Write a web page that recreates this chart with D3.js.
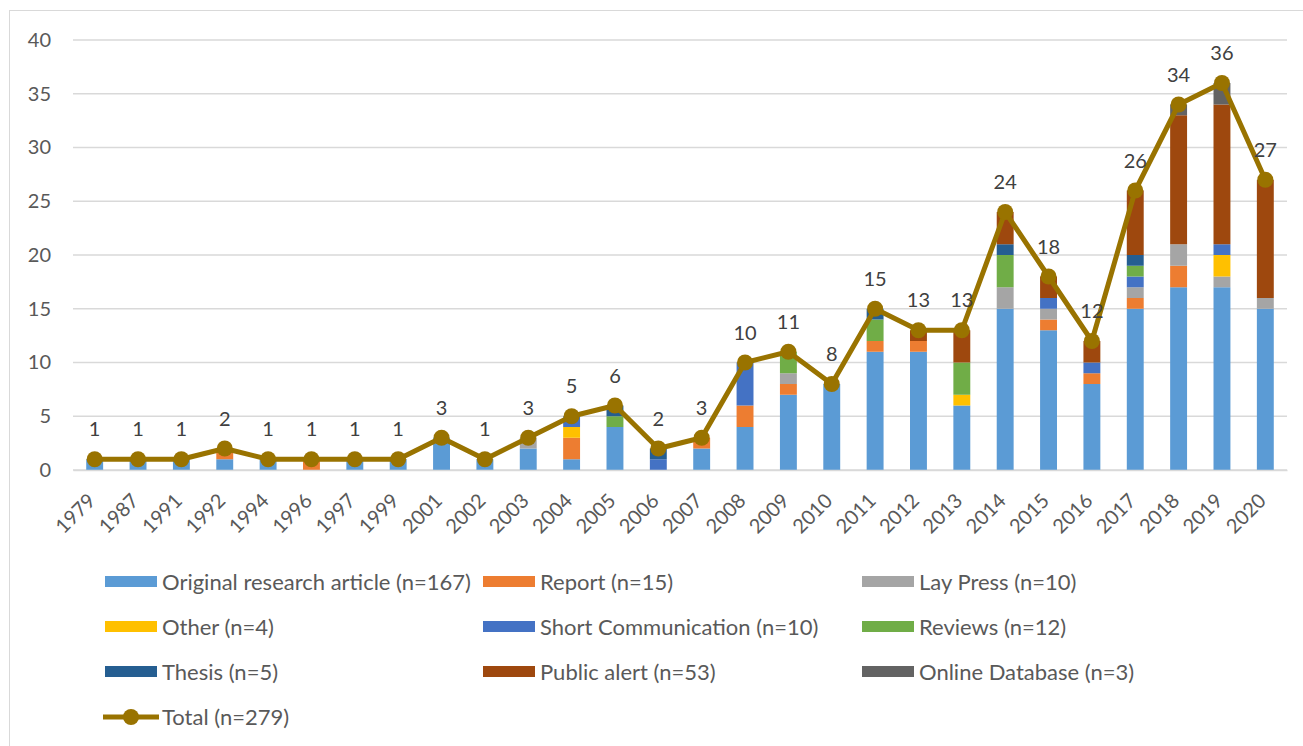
<!DOCTYPE html>
<html>
<head>
<meta charset="utf-8">
<script src="https://cdn.jsdelivr.net/npm/d3@7"></script>
<style>
  body { margin: 0; background: #fff; }
  text { font-family: Lato, "Open Sans", sans-serif; }
</style>
</head>
<body>
<div id="chart"></div>
<script>
var years = ["1979","1987","1991","1992","1994","1996","1997","1999","2001","2002","2003","2004","2005","2006","2007","2008","2009","2010","2011","2012","2013","2014","2015","2016","2017","2018","2019","2020"];

var original   = [1,1,1,1,1,0,1,1,3,1,2,1,4,0,2,4,7,8,11,11,6,15,13,8,15,17,17,15];
var report     = [0,0,0,1,0,1,0,0,0,0,0,2,0,0,1,2,1,0,1,1,0,0,1,1,1,2,0,0];
var layPress   = [0,0,0,0,0,0,0,0,0,0,1,0,0,0,0,0,1,0,0,0,0,2,1,0,1,2,1,1];
var other      = [0,0,0,0,0,0,0,0,0,0,0,1,0,0,0,0,0,0,0,0,1,0,0,0,0,0,2,0];
var shortComm  = [0,0,0,0,0,0,0,0,0,0,0,1,0,1,0,4,0,0,0,0,0,0,1,1,1,0,1,0];
var reviews    = [0,0,0,0,0,0,0,0,0,0,0,0,1,0,0,0,2,0,2,0,3,3,0,0,1,0,0,0];
var thesis     = [0,0,0,0,0,0,0,0,0,0,0,0,1,1,0,0,0,0,1,0,0,1,0,0,1,0,0,0];
var publicAlert= [0,0,0,0,0,0,0,0,0,0,0,0,0,0,0,0,0,0,0,1,3,3,2,2,6,12,13,11];
var onlineDb   = [0,0,0,0,0,0,0,0,0,0,0,0,0,0,0,0,0,0,0,0,0,0,0,0,0,1,2,0];
var totals     = [1,1,1,2,1,1,1,1,3,1,3,5,6,2,3,10,11,8,15,13,13,24,18,12,26,34,36,27];

var yTicks = [0,5,10,15,20,25,30,35,40];

var series = [
    {key: "original",    name: "Original research article (n=167)", color: "#5B9BD5", values: original},
    {key: "report",      name: "Report (n=15)",                     color: "#ED7D31", values: report},
    {key: "layPress",    name: "Lay Press (n=10)",                  color: "#A5A5A5", values: layPress},
    {key: "other",       name: "Other (n=4)",                       color: "#FFC000", values: other},
    {key: "shortComm",   name: "Short Communication (n=10)",        color: "#4472C4", values: shortComm},
    {key: "reviews",     name: "Reviews (n=12)",                    color: "#70AD47", values: reviews},
    {key: "thesis",      name: "Thesis (n=5)",                      color: "#255E91", values: thesis},
    {key: "publicAlert", name: "Public alert (n=53)",               color: "#9E480E", values: publicAlert},
    {key: "onlineDb",    name: "Online Database (n=3)",             color: "#636363", values: onlineDb}
];
var lineColor = "#997300";

var W = 1303, H = 746;
var svg = d3.select("#chart").append("svg").attr("width", W).attr("height", H);

svg.append("rect").attr("x", 9.5).attr("y", 10.5).attr("width", W + 10).attr("height", H + 10)
    .attr("fill", "#fff").attr("stroke", "#d9d9d9").attr("stroke-width", 1);

var x = d3.scaleBand().domain(years).range([73, 1287]).paddingInner(0.61).paddingOuter(0.305);
var y = d3.scaleLinear().domain([0, 40]).range([470, 40]);

// grid
svg.append("g").selectAll("line").data(yTicks).enter().append("line")
    .attr("x1", 73).attr("x2", 1287)
    .attr("y1", function (d) { return y(d); }).attr("y2", function (d) { return y(d); })
    .attr("stroke", "#d9d9d9").attr("stroke-width", 1.5);

// y axis labels
var yAxis = svg.append("g").attr("transform", "translate(60,0)")
    .call(d3.axisLeft(y).tickValues(yTicks).tickSize(0).tickPadding(9));
yAxis.select(".domain").remove();
yAxis.selectAll("text").attr("font-size", "20px").attr("fill", "#595959")
    .style("font-family", "Lato, 'Open Sans', sans-serif");

// stacked bars
var rows = years.map(function (yr, i) {
    var r = {year: yr};
    series.forEach(function (s) { r[s.key] = s.values[i]; });
    return r;
});
var stack = d3.stack().keys(series.map(function (s) { return s.key; }))(rows);

svg.append("g").selectAll("g").data(stack).enter().append("g")
    .attr("fill", function (d, i) { return series[i].color; })
    .selectAll("rect").data(function (d) { return d; }).enter().append("rect")
    .attr("x", function (d) { return x(d.data.year); })
    .attr("width", x.bandwidth())
    .attr("y", function (d) { return y(d[1]); })
    .attr("height", function (d) { return y(d[0]) - y(d[1]); });

// x axis labels
var xAxis = svg.append("g").attr("transform", "translate(0,470)")
    .call(d3.axisBottom(x).tickSize(0).tickPadding(0));
xAxis.select(".domain").attr("stroke", "#d9d9d9").attr("stroke-width", 1.5);
xAxis.selectAll("text")
    .attr("font-size", "20px").attr("fill", "#595959")
    .style("font-family", "Lato, 'Open Sans', sans-serif")
    .attr("text-anchor", "end")
    .attr("dy", "0")
    .attr("y", 0)
    .attr("transform", "translate(2,32) rotate(-45)");

// total line
var cx = function (d, i) { return x(years[i]) + x.bandwidth() / 2; };
var line = d3.line().x(cx).y(function (d) { return y(d); });
svg.append("path").datum(totals).attr("d", line)
    .attr("fill", "none").attr("stroke", lineColor).attr("stroke-width", 5)
    .attr("stroke-linejoin", "round");
svg.append("g").selectAll("circle").data(totals).enter().append("circle")
    .attr("cx", cx).attr("cy", function (d) { return y(d); }).attr("r", 8)
    .attr("fill", lineColor);
svg.append("g").selectAll("text").data(totals).enter().append("text")
    .attr("x", cx).attr("y", function (d) { return y(d) - 23; })
    .attr("text-anchor", "middle").attr("font-size", "20px").attr("fill", "#404040")
    .text(function (d) { return d; });

// legend
var colX = [105, 483, 862];
var rowY = [582, 627, 672];
var leg = svg.append("g");
series.forEach(function (s, i) {
    var gx = colX[i % 3], gy = rowY[Math.floor(i / 3)];
    leg.append("rect").attr("x", gx).attr("y", gy - 6).attr("width", 52).attr("height", 11).attr("fill", s.color);
    leg.append("text").attr("x", gx + 57).attr("y", gy + 8).attr("font-size", "22px").attr("fill", "#595959").text(s.name);
});
var ty = 717;
leg.append("line").attr("x1", 103).attr("x2", 159).attr("y1", ty).attr("y2", ty)
    .attr("stroke", lineColor).attr("stroke-width", 5);
leg.append("circle").attr("cx", 131).attr("cy", ty).attr("r", 8).attr("fill", lineColor);
leg.append("text").attr("x", 162).attr("y", ty + 8).attr("font-size", "22px").attr("fill", "#595959").text("Total (n=279)");
</script>
</body>
</html>
